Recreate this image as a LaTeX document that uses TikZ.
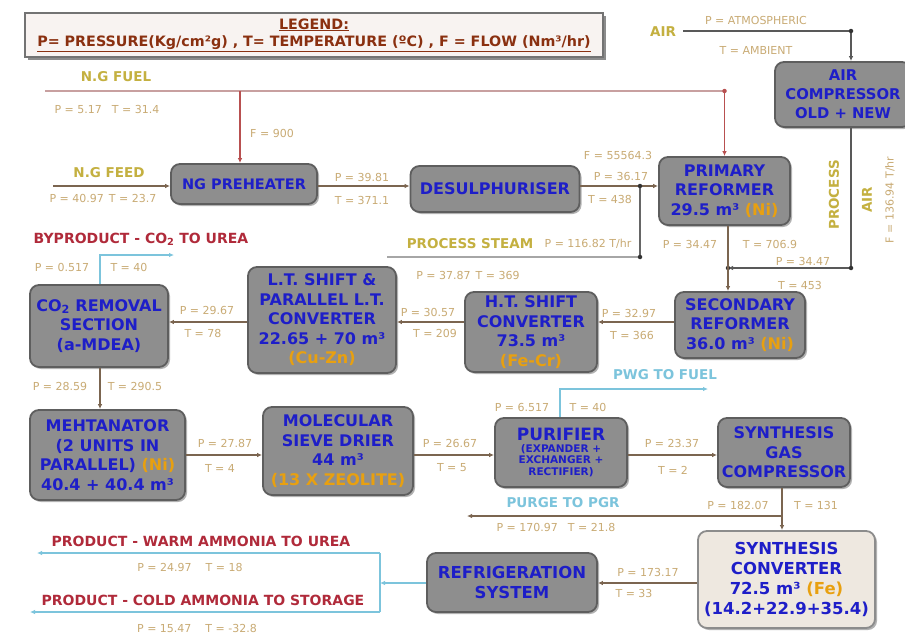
\documentclass[tikz,border=0pt]{standalone}
\usepackage{fontspec}
\setmainfont{DejaVu Sans}
\usetikzlibrary{arrows.meta,shadows,calc}
\definecolor{boxfill}{HTML}{8E8E8E}
\definecolor{boxdraw}{HTML}{5E5E5E}
\definecolor{boxtxt}{HTML}{1E1EC8}
\definecolor{lbl}{HTML}{C9AB74}
\definecolor{strm}{HTML}{C4B040}
\definecolor{redt}{HTML}{B02A3A}
\definecolor{legt}{HTML}{8A3010}
\definecolor{lblue}{HTML}{7CC4DC}
\definecolor{proc}{HTML}{7B6550}
\definecolor{fuelh}{HTML}{C8A0A0}
\definecolor{fuelv}{HTML}{B85050}
\definecolor{orng}{HTML}{E8A010}
\definecolor{convfill}{HTML}{EEE8E0}
\begin{document}
\begin{tikzpicture}[x=1pt,y=-1pt,
  pbox/.style={draw=boxdraw, line width=1.8pt, fill=boxfill, rounded corners=9pt,
    align=center, text=boxtxt, inner sep=0pt,
    font=\fontsize{16}{19.5}\selectfont\bfseries,
    drop shadow={shadow xshift=2pt, shadow yshift=-2pt, fill=black, opacity=.3}},
  lb/.style={text=lbl, font=\fontsize{11}{12}\selectfont, inner sep=0pt},
  st/.style={text=strm, font=\fontsize{13.5}{15}\selectfont\bfseries, inner sep=0pt},
  rd/.style={text=redt, font=\fontsize{14}{16}\selectfont\bfseries, inner sep=0pt},
  bl/.style={text=lblue, font=\fontsize{13.5}{15}\selectfont\bfseries, inner sep=0pt},
  tip/.style={-{Latex[length=5pt,width=4.5pt]}},
  pline/.style={draw=proc, line width=1.7pt},
  bline/.style={draw=lblue, line width=1.6pt},
  dot/.style={circle, fill=#1, inner sep=0pt, minimum size=4.5pt}
]
\useasboundingbox (0,0) rectangle (905,637);
\clip (0,0) rectangle (905,637);
\fill[white] (0,0) rectangle (905,637);

% legend
\node[draw=black!55, line width=1.5pt, fill=legt!6, minimum width=578pt, minimum height=44pt,
  inner sep=0pt, align=center, text=legt, font=\fontsize{14.3}{17.5}\selectfont\bfseries,
  drop shadow={shadow xshift=3pt, shadow yshift=-3pt, fill=black, opacity=.45}]
  (legend) at (314,35) {\underline{LEGEND:}\\\underline{P= PRESSURE(Kg/cm²g) , T= TEMPERATURE (ºC) , F = FLOW (Nm³/hr)}};

% boxes
\node[pbox, minimum width=146pt, minimum height=40pt, font=\fontsize{14.5}{17}\selectfont\bfseries] (prehtr) at (244,184) {NG PREHEATER};
\node[pbox, minimum width=169pt, minimum height=46pt] (desul) at (495,189) {DESULPHURISER};
\node[pbox, minimum width=131pt, minimum height=68pt] (primref) at (724.5,191) {PRIMARY\\REFORMER\\29.5 m³ \textcolor{orng}{(Ni)}};
\node[pbox, minimum width=136pt, minimum height=65pt, font=\fontsize{14.8}{19}\selectfont\bfseries] (aircomp) at (843,94.5) {AIR\\COMPRESSOR\\OLD + NEW};
\node[pbox, minimum width=130pt, minimum height=66pt] (secref) at (740,325) {SECONDARY\\REFORMER\\36.0 m³ \textcolor{orng}{(Ni)}};
\node[pbox, minimum width=132pt, minimum height=80pt] (htshift) at (531,332) {H.T. SHIFT\\CONVERTER\\73.5 m³\\\textcolor{orng}{(Fe-Cr)}};
\node[pbox, minimum width=148pt, minimum height=106pt] (ltshift) at (322,320) {L.T. SHIFT \&\\PARALLEL L.T.\\CONVERTER\\22.65 + 70 m³\\\textcolor{orng}{(Cu-Zn)}};
\node[pbox, minimum width=138pt, minimum height=82pt] (co2) at (99,326) {CO\textsubscript{2} REMOVAL\\SECTION\\(a-MDEA)};
\node[pbox, minimum width=155pt, minimum height=90pt] (meth) at (107.5,455) {MEHTANATOR\\(2 UNITS IN\\PARALLEL) \textcolor{orng}{(Ni)}\\40.4 + 40.4 m³};
\node[pbox, minimum width=150pt, minimum height=88pt] (molsieve) at (338,451) {MOLECULAR\\SIEVE DRIER\\44 m³\\\textcolor{orng}{(13 X ZEOLITE)}};
\node[pbox, minimum width=132pt, minimum height=69pt, font=\fontsize{10.5}{11.5}\selectfont\bfseries] (purif) at (561,452.5) {{\fontsize{17}{19}\selectfont PURIFIER}\\(EXPANDER +\\EXCHANGER +\\RECTIFIER)};
\node[pbox, minimum width=132pt, minimum height=69pt] (sgc) at (784,452.5) {SYNTHESIS\\GAS\\COMPRESSOR};
\node[pbox, fill=convfill, draw=black!45, minimum width=177pt, minimum height=97pt, font=\fontsize{16.5}{20}\selectfont\bfseries] (synconv) at (786.5,579.5) {SYNTHESIS\\CONVERTER\\72.5 m³ \textcolor{orng}{(Fe)}\\(14.2+22.9+35.4)};
\node[pbox, minimum width=170pt, minimum height=59pt, font=\fontsize{16.5}{20}\selectfont\bfseries] (refrig) at (512,582.5) {REFRIGERATION\\SYSTEM};

% row coordinates and free ends
\coordinate (r1) at (0,186);
\coordinate (r2) at (0,322);
\coordinate (r3) at (0,455);
\coordinate (r4) at (0,583);
\coordinate (fuelL) at (45,91);
\coordinate (fuelB) at (240,91);
\coordinate (fuelR) at (724.5,91);
\coordinate (feedL) at (53,186);
\coordinate (steamL) at (387,257);
\coordinate (steamJ) at (640,257);
\coordinate (airL) at (683,31);
\coordinate (airR) at (851,31);
\coordinate (airJ) at (851,268);
\coordinate (psJ) at (728,268);
\coordinate (bpC) at (100,255);
\coordinate (bpE) at (174,255);
\coordinate (pwgC) at (560,389);
\coordinate (pwgE) at (708,389);
\coordinate (scJ) at (782,516);
\coordinate (purgeE) at (467,516);
\coordinate (brkT) at (380,553);
\coordinate (brkB) at (380,612);
\coordinate (warmE) at (37,553);
\coordinate (coldE) at (30,612);

% fuel
\draw[draw=fuelh, line width=2pt] (fuelL) -- (fuelR);
\draw[draw=fuelv, line width=1.2pt, tip] (fuelR) -- (primref.north);
\draw[draw=fuelv, line width=1.2pt, tip] (fuelB) -- (fuelB |- prehtr.north);
\node[dot=fuelv] (dfuel) at (fuelR) {};
% feed and row 1
\draw[pline, tip] (feedL) -- (feedL -| prehtr.west);
\draw[pline, tip] (prehtr.east |- r1) -- (desul.west |- r1);
\draw[pline, tip] (desul.east |- r1) -- (primref.west |- r1);
% steam
\draw[draw=black!35, line width=2.4pt] (steamL) -- (steamJ);
\draw[draw=black!60, line width=1.4pt] (steamJ) -- (steamJ |- r1);
\node[dot=black!80] (dst1) at (steamJ) {};
\node[dot=black!80] (dst2) at (steamJ |- r1) {};
% air
\draw[draw=black!65, line width=1.4pt, tip] (airL) -- (airR) -- (airR |- aircomp.north);
\node[dot=black!80] (dair) at (airR) {};
\draw[draw=black!65, line width=1.6pt] (aircomp.south -| airJ) -- (airJ);
\draw[draw=black!65, line width=1.6pt, tip] (airJ) -- (psJ);
\node[dot=black!80] (dairJ) at (airJ) {};
\node[dot=black!80] (dpsJ) at (psJ) {};
\draw[pline, tip] (primref.south -| psJ) -- (secref.north -| psJ);
% row 2
\draw[pline, tip] (secref.west |- r2) -- (htshift.east |- r2);
\draw[pline, tip] (htshift.west |- r2) -- (ltshift.east |- r2);
\draw[pline, tip] (ltshift.west |- r2) -- (co2.east |- r2);
\draw[bline, tip] (co2.north -| bpC) -- (bpC) -- (bpE);
\draw[pline, tip] (co2.south -| bpC) -- (meth.north -| bpC);
% row 3
\draw[pline, tip] (meth.east |- r3) -- (molsieve.west |- r3);
\draw[pline, tip] (molsieve.east |- r3) -- (purif.west |- r3);
\draw[pline, tip] (purif.east |- r3) -- (sgc.west |- r3);
\draw[bline, tip] (purif.north -| pwgC) -- (pwgC) -- (pwgE);
\draw[pline, tip] (sgc.south -| scJ) -- (synconv.north -| scJ);
\draw[pline, tip] (scJ) -- (purgeE);
% row 4
\draw[pline, tip] (synconv.west |- r4) -- (refrig.east |- r4);
\draw[bline, tip] (refrig.west |- r4) -- (brkT |- r4);
\draw[bline] (brkT) -- (brkB);
\draw[bline, tip] (brkT) -- (warmE);
\draw[bline, tip] (brkB) -- (coldE);

% labels
\node[lb] (lAtm) at (756,20) {P = ATMOSPHERIC};
\node[lb] (lAmb) at (756,50) {T = AMBIENT};
\node[st] (sAir) at (663,32) {AIR};
\node[st] (sFuel) at (116,77) {N.G FUEL};
\node[lb] (lFuelPT) at (107,109) {P = 5.17\hspace{10pt}T = 31.4};
\node[lb] (lF900) at (272,133) {F = 900};
\node[st] (sFeed) at (109,173) {N.G FEED};
\node[lb] (lFeed) at (103,198) {P = 40.97\hspace{5pt}T = 23.7};
\node[lb] (l1) at (362,177) {P = 39.81};
\node[lb] (l2) at (362,200) {T = 371.1};
\node[lb] (l3) at (618,155) {F = 55564.3};
\node[lb] (l4) at (621,176) {P = 36.17};
\node[lb] (l5) at (610,199) {T = 438};
\node[st] (sSteam) at (470,244) {PROCESS STEAM};
\node[lb] (l6) at (588,244) {P = 116.82 T/hr};
\node[st, rotate=90] (sProc) at (834,195) {PROCESS};
\node[st, rotate=90] (sAir2) at (867,200) {AIR};
\node[lb, rotate=90] (l7) at (890,200) {F = 136.94 T/hr};
\node[lb] (l8) at (690,244) {P = 34.47};
\node[lb] (l9) at (770,244) {T = 706.9};
\node[lb] (l10) at (803,261) {P = 34.47};
\node[lb] (l11) at (800,285) {T = 453};
\node[lb] (l12) at (629,313) {P = 32.97};
\node[lb] (l13) at (632,335) {T = 366};
\node[lb] (l14) at (468,275) {P = 37.87\hspace{5pt}T = 369};
\node[lb] (l15) at (428,312) {P = 30.57};
\node[lb] (l16) at (435,333) {T = 209};
\node[lb] (l17) at (207,310) {P = 29.67};
\node[lb] (l18) at (203,333) {T = 78};
\node[rd] (sByp) at (141,239) {BYPRODUCT - CO\textsubscript{2} TO UREA};
\node[lb] (l19) at (62,267) {P = 0.517};
\node[lb] (l20) at (129,267) {T = 40};
\node[lb] (l21) at (60,386) {P = 28.59};
\node[lb] (l22) at (135,386) {T = 290.5};
\node[lb] (l23) at (225,443) {P = 27.87};
\node[lb] (l24) at (220,468) {T = 4};
\node[lb] (l25) at (450,443) {P = 26.67};
\node[lb] (l26) at (452,468) {T = 5};
\node[lb] (l27) at (522,407) {P = 6.517};
\node[lb] (l28) at (588,407) {T = 40};
\node[bl] (sPwg) at (665,375) {PWG TO FUEL};
\node[lb] (l29) at (672,443) {P = 23.37};
\node[lb] (l30) at (673,470) {T = 2};
\node[lb] (l31) at (738,505) {P = 182.07};
\node[lb] (l32) at (816,505) {T = 131};
\node[bl] (sPurge) at (563,503) {PURGE TO PGR};
\node[lb] (l33) at (556,527) {P = 170.97\hspace{10pt}T = 21.8};
\node[lb] (l34) at (648,572) {P = 173.17};
\node[lb] (l35) at (634,593) {T = 33};
\node[rd] (sWarm) at (201,541) {PRODUCT - WARM AMMONIA TO UREA};
\node[lb] (l36) at (190,567) {P = 24.97\hspace{14pt}T = 18};
\node[rd] (sCold) at (203,600) {PRODUCT - COLD AMMONIA TO STORAGE};
\node[lb] (l37) at (197,628) {P = 15.47\hspace{14pt}T = -32.8};
\end{tikzpicture}
\end{document}
